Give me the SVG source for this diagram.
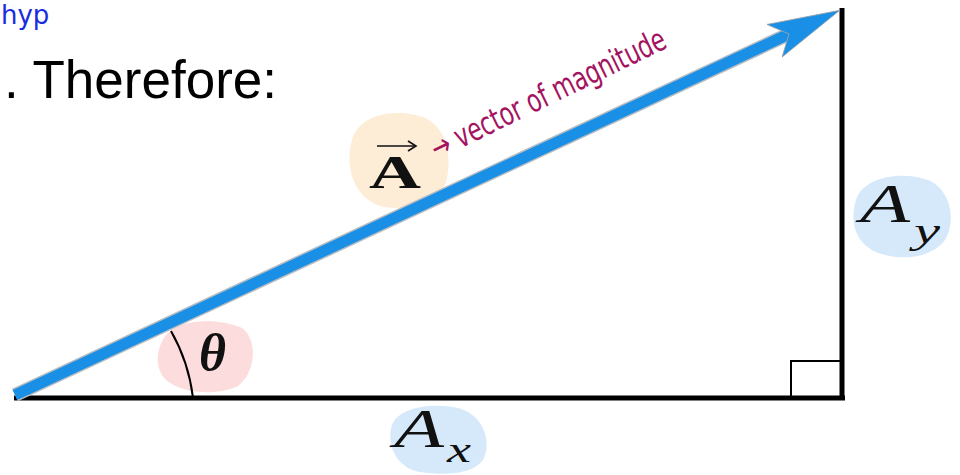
<svg xmlns="http://www.w3.org/2000/svg" width="960" height="475" viewBox="0 0 960 475">
<style>
.blk{stroke:#000;fill:none}
.math{font-family:"Liberation Serif","DejaVu Serif",serif;font-style:italic;fill:#111}
.hand{font-family:"DejaVu Sans Condensed","DejaVu Sans",sans-serif;fill:#a3135f}
</style>
<defs>
<marker id="head" markerUnits="userSpaceOnUse" markerWidth="90" markerHeight="50" refX="16" refY="25" orient="auto" viewBox="0 0 90 50">
<path d="M72 25 L0 7 L16 25 L0 43 Z" fill="#1a8fe6" stroke="#9aa3aa" stroke-width="0.8"/>
</marker>
<marker id="vec" markerUnits="userSpaceOnUse" markerWidth="12" markerHeight="12" refX="10" refY="6" orient="auto" viewBox="0 0 12 12">
<path d="M2 1 L10 6 L2 11" fill="none" stroke="#111" stroke-width="1.6"/>
</marker>
</defs>
<rect width="960" height="475" fill="#fff"/>
<text x="1" y="24" font-family="DejaVu Sans,sans-serif" font-size="26" fill="#1a2be0">hyp</text>
<text x="4" y="98" font-family="Liberation Sans,Arial,sans-serif" font-size="53" fill="#000">. Therefore:</text>

<g id="blobs">
<path d="M352 140 C360 112 400 108 425 118 C448 128 452 160 446 182 C438 205 405 212 380 206 C355 198 344 168 352 140 Z" fill="#fdecd6"/>
<path d="M166 335 C180 318 220 318 242 328 C258 340 256 372 238 386 C218 396 182 394 166 380 C154 368 156 348 166 335 Z" fill="#fcdcdc"/>
<path d="M856 200 C862 178 900 170 928 180 C952 190 956 222 945 240 C932 258 900 262 876 252 C854 242 850 220 856 200 Z" fill="#d6e9fb"/>
<path d="M392 425 C398 408 430 402 458 408 C482 414 492 440 484 458 C476 474 446 476 420 472 C396 468 386 444 392 425 Z" fill="#d6e9fb"/>
</g>

<g id="triangle">
<line class="blk" x1="14" y1="398" x2="845" y2="398" stroke-width="5"/>
<line class="blk" x1="842" y1="8" x2="842" y2="400" stroke-width="5"/>
<rect class="blk" x="791" y="361" width="51" height="37" stroke-width="2"/>
<path class="blk" d="M171 331 A178 178 0 0 1 193 398" stroke-width="2"/>
</g>

<g id="connectors">
<line x1="15" y1="395" x2="789" y2="34" stroke="#b5bcc2" stroke-width="14"/>
<line x1="15" y1="395" x2="789" y2="34" stroke="#1a8fe6" stroke-width="11" marker-end="url(#head)"/>
</g>

<g id="label-A">
<line x1="377" y1="146" x2="416" y2="146" stroke="#111" stroke-width="1.6" marker-end="url(#vec)"/>
<text x="369" y="188" font-family="Liberation Serif,DejaVu Serif,serif" font-weight="bold" font-size="46" fill="#111" textLength="52" lengthAdjust="spacingAndGlyphs">A</text>
<g transform="translate(437,160) rotate(-26) scale(0.79,1)">
<text class="hand" font-size="32">→ vector of magnitude</text>
</g>
</g>
<g id="label-theta">
<text class="math" x="199" y="370" font-size="52" font-weight="bold">θ</text>
</g>
<g id="label-Ay">
<text class="math" x="860" y="222" font-size="54" textLength="50" lengthAdjust="spacingAndGlyphs">A</text>
<text class="math" x="914" y="243" font-size="36" textLength="26" lengthAdjust="spacingAndGlyphs">y</text>
</g>
<g id="label-Ax">
<text class="math" x="394" y="447" font-size="54" textLength="50" lengthAdjust="spacingAndGlyphs">A</text>
<text class="math" x="447" y="462" font-size="36" textLength="24" lengthAdjust="spacingAndGlyphs">x</text>
</g>
</svg>
